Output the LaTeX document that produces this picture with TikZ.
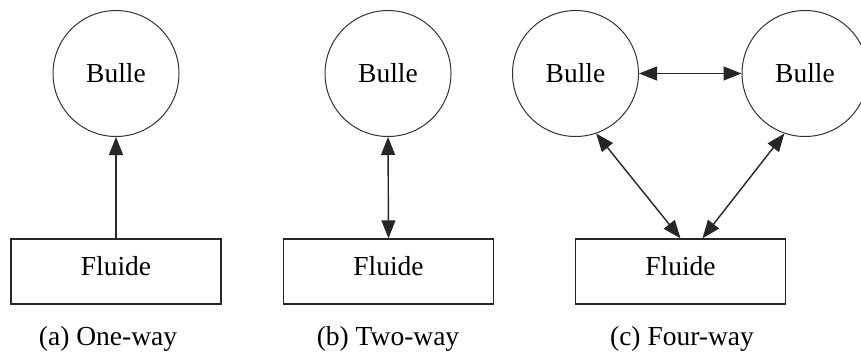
\documentclass[tikz,border=0pt]{standalone}
\usepackage{fontspec}
\setmainfont{Liberation Serif}
\usetikzlibrary{arrows.meta,calc}
\begin{document}
\begin{tikzpicture}[x=1pt,y=-1pt,
  every node/.style={font=\fontsize{27.5}{33}\selectfont},
  bulle/.style={circle,draw=black!80,line width=1pt,minimum size=126pt,inner sep=0pt},
  fluide/.style={rectangle,draw=black!85,line width=1.4pt,minimum width=210pt,minimum height=65pt,inner sep=0pt,text depth=11pt},
  capt/.style={inner sep=0pt},
  con/.style={line width=1.4pt,draw=black!85},
  one/.style={-{Triangle[length=18pt,width=14pt]}},
  both/.style={{Triangle[length=18pt,width=14pt]}-{Triangle[length=18pt,width=14pt]}}
]
\clip (0,0) rectangle (861,357);
\fill[white] (0,0) rectangle (861,357);
% (a)
\node[bulle] (ba) at (116,73.5) {Bulle};
\node[fluide] (fa) at (116,271.5) {Fluide};
\node[capt] (la) at (108,339) {(a) One-way};
\draw[con,one] (fa.north) -- (ba.south);
% (b)
\node[bulle] (bb) at (388,73.5) {Bulle};
\node[fluide] (fb) at (388.5,271.5) {Fluide};
\node[capt] (lb) at (388,339) {(b) Two-way};
\draw[con,both] (bb.south) -- (fb.north);
% (c)
\node[bulle] (bc1) at (575.5,73.5) {Bulle};
\node[bulle] (bc2) at (805,73.5) {Bulle};
\node[fluide] (fc) at (680.5,271.5) {Fluide};
\node[capt] (lc) at (682,339) {(c) Four-way};
\coordinate (fcl) at ($(fc.north)+(0,0)$);
\coordinate (fcr) at ($(fc.north)+(22,0)$);
\draw[con,both] (bc1.east) -- (bc2.west);
\draw[con,both] (bc1.-71) -- (fcl);
\draw[con,both] (bc2.-109) -- (fcr);
\end{tikzpicture}
\end{document}
